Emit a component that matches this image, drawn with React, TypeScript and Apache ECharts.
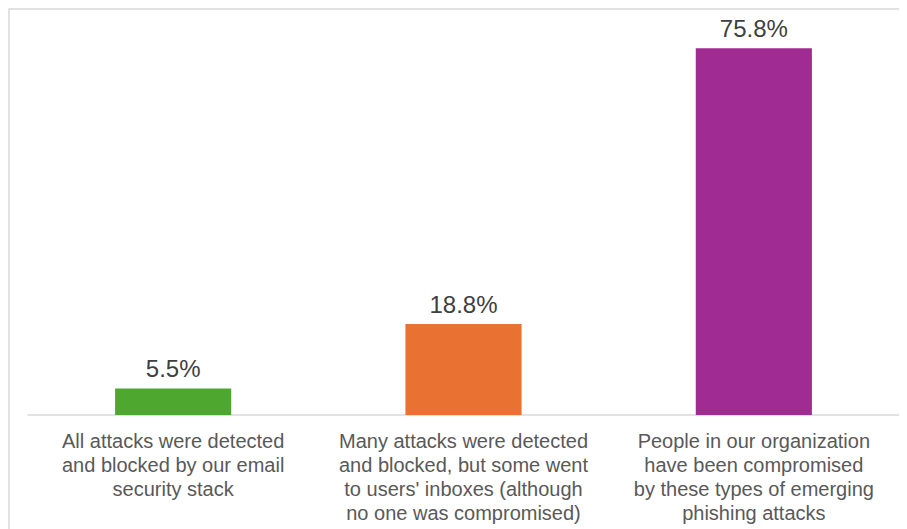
import React, { useEffect, useRef } from "react";
import * as echarts from "echarts";

const categories = [
  "All attacks were detected\nand blocked by our email\nsecurity stack",
  "Many attacks were detected\nand blocked, but some went\nto users' inboxes (although\nno one was compromised)",
  "People in our organization\nhave been compromised\nby these types of emerging\nphishing attacks",
];
const values = [5.5, 18.8, 75.8];
const barColors = ["#4EA72E", "#E97132", "#A02B93"];

export default function App() {
  const ref = useRef<HTMLDivElement>(null);
  useEffect(() => {
    if (!ref.current) return;
    const chart = echarts.init(ref.current, null, { renderer: "svg" });
    chart.setOption({
      animation: false,
      graphic: [
        {
          type: "rect",
          shape: { x: 1, y: 1, width: 2000, height: 2000 },
          style: { fill: "none", stroke: "#D9D9D9", lineWidth: 1.5 },
          silent: true,
        },
      ],
      grid: { left: 20, right: 8, top: 20, bottom: 114, containLabel: false },
      xAxis: {
        type: "category",
        data: categories,
        axisLine: { show: true, lineStyle: { color: "#D9D9D9", width: 1.5 } },
        axisTick: { show: false },
        axisLabel: {
          interval: 0,
          margin: 14,
          color: "#595959",
          fontFamily: "Liberation Sans, Arial, sans-serif",
          fontSize: 20,
          lineHeight: 24,
          align: "center",
        },
      },
      yAxis: {
        type: "value",
        min: 0,
        max: 80,
        show: false,
        splitLine: { show: false },
      },
      series: [
        {
          type: "bar",
          barWidth: "40%",
          data: values.map((v, i) => ({ value: v, itemStyle: { color: barColors[i] } })),
          label: {
            show: true,
            position: "top",
            distance: 8,
            color: "#404040",
            fontFamily: "Liberation Sans, Arial, sans-serif",
            fontSize: 24,
            formatter: (p: any) => p.value.toFixed(1) + "%",
          },
        },
      ],
    });
    return () => chart.dispose();
  }, []);
  return <div ref={ref} style={{ width: 899, height: 521 }} />;
}
